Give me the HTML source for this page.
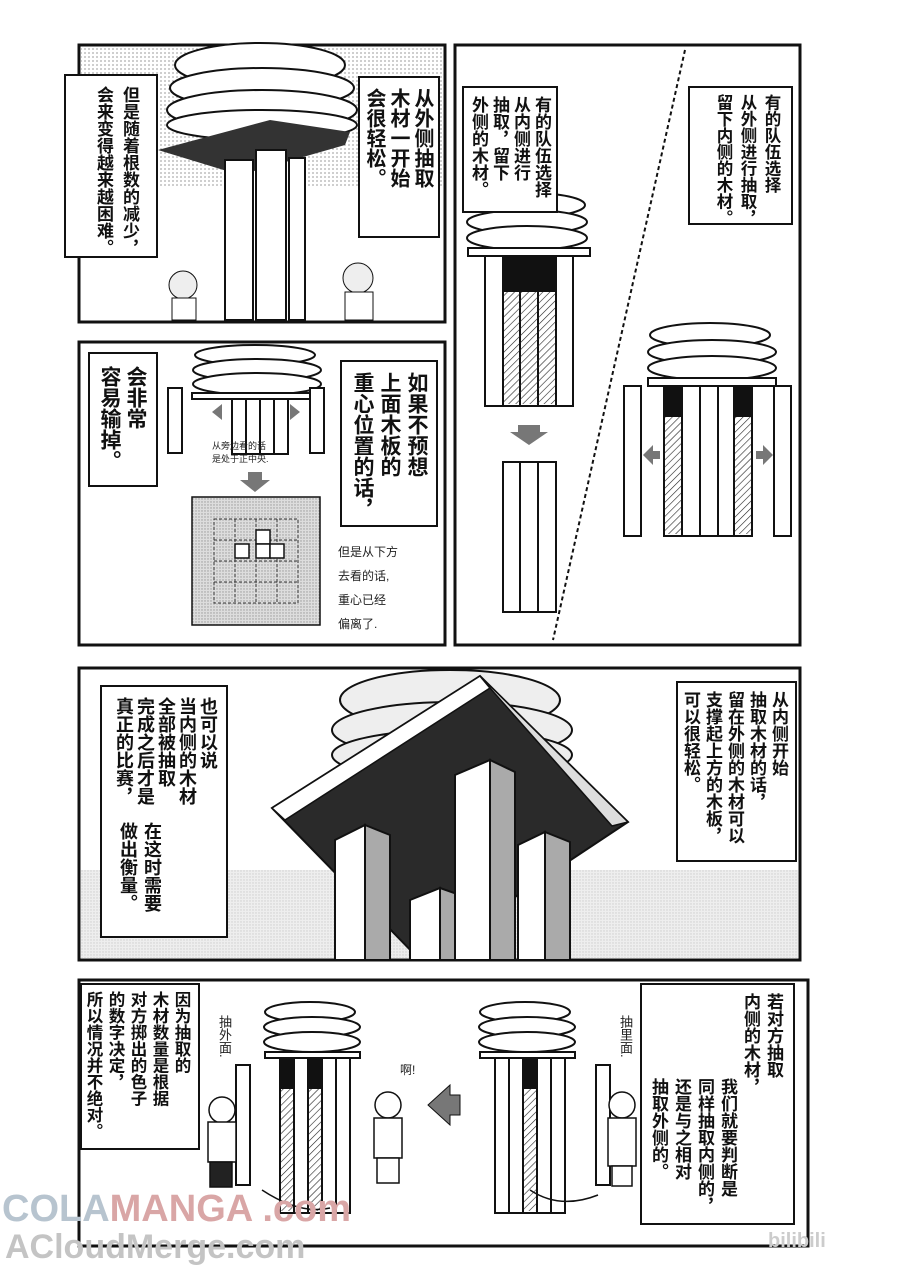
<!DOCTYPE html>
<html><head><meta charset="utf-8"><style>
body{margin:0;width:900px;height:1275px;background:#fff;position:relative;overflow:hidden;font-family:"Liberation Sans","Noto Sans CJK SC",sans-serif}
svg{position:absolute;left:0;top:0}
.b{position:absolute;background:#fff;border:2px solid #111;writing-mode:vertical-rl;font-weight:bold;font-size:17px;line-height:22px;padding:8px 6px;box-sizing:border-box;color:#111;white-space:pre;letter-spacing:0}
.t{position:absolute;writing-mode:vertical-rl;font-weight:bold;color:#111;white-space:pre}
.h{position:absolute;writing-mode:horizontal-tb;font-size:11px;color:#222;line-height:20px}
.wm{position:absolute;font-family:"Liberation Sans",sans-serif;font-weight:bold}
</style></head><body>
<svg width="900" height="1275" viewBox="0 0 900 1275">
<defs>
<pattern id="ht" width="5" height="5" patternUnits="userSpaceOnUse" patternTransform="rotate(45)"><line x1="0" y1="0" x2="0" y2="5" stroke="#222" stroke-width="1.2"/></pattern>
<pattern id="dt" width="4" height="4" patternUnits="userSpaceOnUse"><circle cx="1" cy="1" r="0.6" fill="#555"/></pattern>
<pattern id="gr" width="3" height="3" patternUnits="userSpaceOnUse"><rect width="3" height="3" fill="#ddd"/><circle cx="1" cy="1" r="0.7" fill="#999"/></pattern>
</defs>
<g fill="none" stroke="#111" stroke-width="3">
<rect x="79" y="45" width="366" height="277"/>
<rect x="455" y="45" width="345" height="600"/>
<rect x="79" y="342" width="366" height="303"/>
<rect x="79" y="668" width="721" height="292"/>
<rect x="79" y="980" width="729" height="266"/>
</g>
<rect x="81" y="47" width="362" height="140" fill="url(#dt)"/>
<g stroke="#111" stroke-width="2" fill="#fff">
<ellipse cx="260" cy="65" rx="85" ry="22"/><ellipse cx="262" cy="88" rx="92" ry="20"/><ellipse cx="262" cy="110" rx="95" ry="20"/><ellipse cx="262" cy="125" rx="95" ry="15"/>
</g>
<polygon points="158,150 270,120 350,132 345,145 240,175" fill="#333"/>
<g stroke="#111" stroke-width="2" fill="#fff">
<rect x="225" y="160" width="28" height="160"/><rect x="256" y="150" width="30" height="170"/><rect x="289" y="158" width="16" height="162"/>
</g>
<circle cx="183" cy="285" r="14" fill="#eee" stroke="#111"/><rect x="172" y="298" width="24" height="22" fill="#fff" stroke="#111"/>
<circle cx="358" cy="278" r="15" fill="#eee" stroke="#111"/><rect x="345" y="292" width="28" height="28" fill="#fff" stroke="#111"/>
<line x1="685" y1="50" x2="553" y2="640" stroke="#111" stroke-width="2" stroke-dasharray="4 3"/>
<g stroke="#111" stroke-width="2" fill="#fff">
<ellipse cx="530" cy="205" rx="55" ry="12"/><ellipse cx="527" cy="222" rx="60" ry="12"/><ellipse cx="527" cy="238" rx="60" ry="12"/>
<rect x="468" y="248" width="122" height="8"/>
<rect x="485" y="256" width="18" height="150"/><rect x="503" y="256" width="17" height="150"/><rect x="520" y="256" width="18" height="150"/><rect x="538" y="256" width="18" height="150"/><rect x="556" y="256" width="17" height="150"/>
</g>
<rect x="504" y="257" width="51" height="35" fill="#111"/>
<rect x="504" y="292" width="51" height="112" fill="url(#ht)"/>
<polygon points="518,425 540,425 540,432 548,432 529,445 510,432 518,432" fill="#777"/>
<g stroke="#111" stroke-width="2" fill="#fff">
<rect x="503" y="462" width="17" height="150"/><rect x="520" y="462" width="18" height="150"/><rect x="538" y="462" width="18" height="150"/>
<ellipse cx="710" cy="335" rx="60" ry="12"/><ellipse cx="712" cy="352" rx="64" ry="12"/><ellipse cx="712" cy="368" rx="64" ry="12"/>
<rect x="648" y="378" width="128" height="8"/>
<rect x="624" y="386" width="17" height="150"/><rect x="664" y="386" width="18" height="150"/><rect x="682" y="386" width="18" height="150"/><rect x="700" y="386" width="18" height="150"/><rect x="718" y="386" width="16" height="150"/><rect x="734" y="386" width="18" height="150"/><rect x="774" y="386" width="17" height="150"/>
</g>
<rect x="665" y="387" width="16" height="30" fill="#111"/><rect x="665" y="417" width="16" height="117" fill="url(#ht)"/>
<rect x="735" y="387" width="16" height="30" fill="#111"/><rect x="735" y="417" width="16" height="117" fill="url(#ht)"/>
<polygon points="643,455 653,445 653,451 660,451 660,459 653,459 653,465" fill="#777"/>
<polygon points="773,455 763,445 763,451 756,451 756,459 763,459 763,465" fill="#777"/>
<g stroke="#111" stroke-width="2" fill="#fff">
<ellipse cx="255" cy="355" rx="60" ry="10"/><ellipse cx="257" cy="370" rx="64" ry="11"/><ellipse cx="257" cy="384" rx="64" ry="11"/>
<rect x="192" y="393" width="130" height="6"/>
<rect x="168" y="388" width="14" height="65"/><rect x="232" y="399" width="14" height="55"/><rect x="246" y="399" width="14" height="55"/><rect x="260" y="399" width="14" height="55"/><rect x="274" y="399" width="14" height="55"/><rect x="310" y="388" width="14" height="65"/>
</g>
<polygon points="212,412 222,404 222,420" fill="#777"/><polygon points="300,412 290,404 290,420" fill="#777"/>
<polygon points="248,472 262,472 262,480 270,480 255,492 240,480 248,480" fill="#777"/>
<rect x="192" y="497" width="128" height="128" fill="url(#gr)" stroke="#111" stroke-width="1.5"/>
<g stroke="#333" stroke-width="1" stroke-dasharray="3 2" fill="none">
<rect x="214" y="519" width="84" height="84"/><line x1="214" y1="540" x2="298" y2="540"/><line x1="214" y1="561" x2="298" y2="561"/><line x1="214" y1="582" x2="298" y2="582"/><line x1="235" y1="519" x2="235" y2="603"/><line x1="256" y1="519" x2="256" y2="603"/><line x1="277" y1="519" x2="277" y2="603"/>
</g>
<g fill="#fff" stroke="#111" stroke-width="1.5"><rect x="256" y="530" width="14" height="14"/><rect x="235" y="544" width="14" height="14"/><rect x="256" y="544" width="14" height="14"/><rect x="270" y="544" width="14" height="14"/></g>
<rect x="81" y="870" width="717" height="88" fill="url(#gr)" opacity="0.5"/>
<g stroke="#111" stroke-width="2" fill="#eee">
<ellipse cx="450" cy="700" rx="110" ry="30"/><ellipse cx="452" cy="730" rx="120" ry="28"/><ellipse cx="452" cy="755" rx="120" ry="25"/>
</g>
<polygon points="272,808 480,676 628,822 420,960" fill="#2a2a2a" stroke="#111" stroke-width="2"/>
<polygon points="272,808 480,676 490,688 285,820" fill="#fff" stroke="#111" stroke-width="1.5"/>
<polygon points="480,676 628,822 612,826 490,688" fill="#ddd" stroke="#111" stroke-width="1.5"/>
<g stroke="#111" stroke-width="2">
<polygon points="335,840 365,825 365,960 335,960" fill="#fff"/><polygon points="365,825 390,835 390,960 365,960" fill="#aaa"/>
<polygon points="410,900 440,888 440,960 410,960" fill="#fff"/><polygon points="440,888 460,895 460,960 440,960" fill="#aaa"/>
<polygon points="455,775 490,760 490,960 455,960" fill="#fff"/><polygon points="490,760 515,772 515,960 490,960" fill="#aaa"/>
<polygon points="518,845 545,832 545,960 518,960" fill="#fff"/><polygon points="545,832 570,842 570,960 545,960" fill="#aaa"/>
</g>
<g stroke="#111" stroke-width="2" fill="#fff">
<ellipse cx="310" cy="1012" rx="45" ry="10"/><ellipse cx="312" cy="1027" rx="48" ry="10"/><ellipse cx="312" cy="1042" rx="48" ry="10"/>
<rect x="265" y="1052" width="95" height="6"/>
<rect x="280" y="1058" width="14" height="155"/><rect x="294" y="1058" width="14" height="155"/><rect x="308" y="1058" width="14" height="155"/><rect x="322" y="1058" width="14" height="155"/><rect x="336" y="1058" width="14" height="155"/>
<rect x="236" y="1065" width="14" height="120"/>
<ellipse cx="525" cy="1012" rx="45" ry="10"/><ellipse cx="527" cy="1027" rx="48" ry="10"/><ellipse cx="527" cy="1042" rx="48" ry="10"/>
<rect x="480" y="1052" width="95" height="6"/>
<rect x="495" y="1058" width="14" height="155"/><rect x="509" y="1058" width="14" height="155"/><rect x="523" y="1058" width="14" height="155"/><rect x="537" y="1058" width="14" height="155"/><rect x="551" y="1058" width="14" height="155"/>
<rect x="596" y="1065" width="14" height="120"/>
</g>
<rect x="281" y="1059" width="12" height="30" fill="#111"/><rect x="281" y="1089" width="12" height="122" fill="url(#ht)"/>
<rect x="309" y="1059" width="12" height="30" fill="#111"/><rect x="309" y="1089" width="12" height="122" fill="url(#ht)"/>
<rect x="524" y="1059" width="12" height="30" fill="#111"/><rect x="524" y="1089" width="12" height="122" fill="url(#ht)"/>
<polygon points="428,1105 450,1085 450,1095 460,1095 460,1115 450,1115 450,1125" fill="#777" stroke="#111"/>
<g stroke="#111" stroke-width="1.5" fill="#fff">
<circle cx="222" cy="1110" r="13"/><rect x="208" y="1122" width="28" height="40"/><rect x="210" y="1162" width="22" height="25" fill="#222"/>
<circle cx="388" cy="1105" r="13"/><rect x="374" y="1118" width="28" height="40"/><rect x="377" y="1158" width="22" height="25"/>
<circle cx="622" cy="1105" r="13"/><rect x="608" y="1118" width="28" height="48"/><rect x="612" y="1166" width="20" height="20"/>
</g>
<path d="M262 1190 Q300 1215 330 1208" fill="none" stroke="#111" stroke-width="1.5"/>
<path d="M530 1190 Q560 1210 598 1195" fill="none" stroke="#111" stroke-width="1.5"/>
</svg>
<div class="b" style="left:64px;top:74px;width:94px;height:184px;font-size:17px;line-height:26px;padding:10px 14px">但是随着根数的减少，
会来变得越来越困难。</div>
<div class="b" style="left:358px;top:76px;width:82px;height:162px;font-size:20px;line-height:24px;padding:10px 4px">从外侧抽取
木材一开始
会很轻松。</div>
<div class="b" style="left:462px;top:86px;width:96px;height:127px;font-size:17px;line-height:21px;padding:8px 4px">有的队伍选择
从内侧进行
抽取，留下
外侧的木材。</div>
<div class="b" style="left:688px;top:86px;width:105px;height:139px;font-size:16.5px;line-height:24px;padding:6px 8px">有的队伍选择
从外侧进行抽取，
留下内侧的木材。</div>
<div class="b" style="left:88px;top:352px;width:70px;height:135px;font-size:21px;line-height:26px;padding:12px 8px">会非常
容易输掉。</div>
<div class="b" style="left:340px;top:360px;width:98px;height:167px;font-size:21px;line-height:27px;padding:10px 6px">如果不预想
上面木板的
重心位置的话，</div>
<div class="h" style="left:212px;top:440px;font-size:9px;line-height:13px">从旁边看的话<br>是处于正中央.</div>
<div class="h" style="left:338px;top:540px;font-size:12px;line-height:24px">但是从下方<br>去看的话,<br>重心已经<br>偏离了.</div>
<div class="b" style="left:100px;top:685px;width:128px;height:253px;font-size:18px;line-height:21px;padding:10px 8px">也可以说
当内侧的木材
全部被抽取
完成之后才是
真正的比赛，</div>
<div class="t" style="left:116px;top:822px;font-size:18px;line-height:24px">在这时需要
做出衡量。</div>
<div class="b" style="left:676px;top:681px;width:121px;height:181px;font-size:17px;line-height:22px;padding:8px 6px">从内侧开始
抽取木材的话，
留在外侧的木材可以
支撑起上方的木板，
可以很轻松。</div>
<div class="b" style="left:80px;top:983px;width:120px;height:167px;font-size:16.5px;line-height:22px;padding:6px 6px">因为抽取的
木材数量是根据
对方掷出的色子
的数字决定，
所以情况并不绝对。</div>
<div class="b" style="left:640px;top:983px;width:155px;height:242px;font-size:17px;line-height:23px;padding:8px 8px">若对方抽取
内侧的木材，
　　　　　我们就要判断是
　　　　　同样抽取内侧的，
　　　　　还是与之相对
　　　　　抽取外侧的。</div>
<div class="h" style="left:214px;top:1015px;writing-mode:vertical-rl;font-size:13px">抽外面.</div>
<div class="h" style="left:615px;top:1015px;writing-mode:vertical-rl;font-size:13px">抽里面.</div>
<div class="h" style="left:400px;top:1060px;font-size:12px">啊!</div>
<div class="wm" style="left:2px;top:1188px;font-size:38px;color:#b7c4cf">COLA<span style="color:#d9a6a6">MANGA</span> <span style="color:#d9a6a6">.com</span></div>
<div class="wm" style="left:5px;top:1228px;font-size:34px;color:#c4c4c4">ACloudMerge.com</div>
<div class="wm" style="left:768px;top:1230px;font-size:20px;color:#ccc">bilibili</div>
</body></html>
